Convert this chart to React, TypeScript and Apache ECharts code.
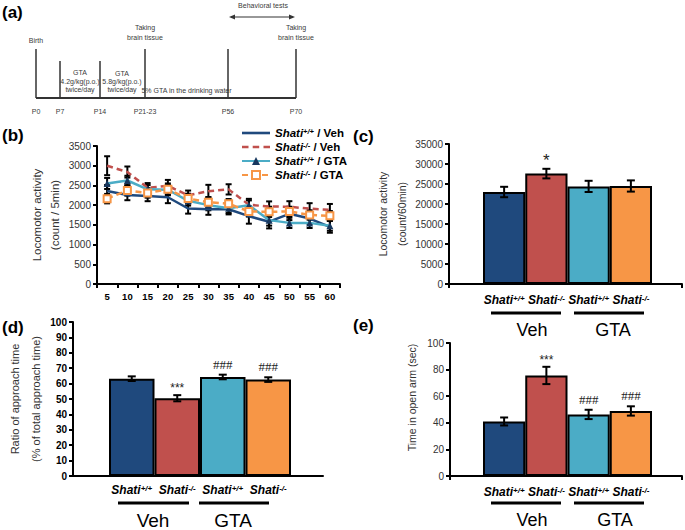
import React, { useEffect, useRef } from 'react';
import * as echarts from 'echarts';

// ---------------- data ----------------
const minutes = ['5', '10', '15', '20', '25', '30', '35', '40', '45', '50', '55', '60'];
const wtVeh = [2360, 2255, 2230, 2200, 1915, 1895, 1895, 1720, 1580, 1780, 1660, 1450];
const wtVehErr = [150, 130, 130, 150, 130, 140, 130, 190, 170, 160, 140, 150];
const koVeh = [3000, 2840, 2440, 2490, 2250, 2355, 2400, 2010, 1965, 1960, 1910, 1880];
const koVehErr = [240, 140, 120, 150, 120, 160, 130, 150, 130, 140, 140, 150];
const wtGta = [2550, 2625, 2400, 2390, 2110, 2000, 1920, 2000, 1620, 1550, 1550, 1480];
const wtGtaErr = [140, 120, 110, 120, 120, 130, 120, 120, 140, 130, 130, 130];
const koGta = [2165, 2370, 2310, 2400, 2170, 2075, 2035, 1840, 1830, 1840, 1750, 1730];
const koGtaErr = [120, 130, 120, 150, 120, 130, 120, 130, 130, 120, 120, 120];

const lineSeriesNames = ['Shati+/+ / Veh', 'Shati-/- / Veh', 'Shati+/+ / GTA', 'Shati-/- / GTA'];

const groups = ['Shati+/+ Veh', 'Shati-/- Veh', 'Shati+/+ GTA', 'Shati-/- GTA'];
const treatments = ['Veh', 'GTA'];

const locoTotal = [23000, 27600, 24400, 24500];
const locoTotalErr = [1300, 1200, 1400, 1400];
const locoTotalMarks = ['', '*', '', ''];

const approach = [63.2, 50.5, 64.3, 62.6];
const approachErr = [1.5, 2, 1.5, 1.5];
const approachMarks = ['', '***', '###', '###'];

const openArm = [41, 75.6, 46.3, 48.9];
const openArmErr = [3, 6.5, 3.5, 3.5];
const openArmMarks = ['', '***', '###', '###'];

const timelineLabels = ['P0', 'P7', 'P14', 'P21-23', 'P56', 'P70'];

// ---------------- styles ----------------
const FONT = "'Liberation Sans', Arial, sans-serif";
const BLUE = '#1f497d';
const RED = '#c0504d';
const CYAN = '#4bacc6';
const ORANGE = '#f79646';
const barColors = [BLUE, RED, CYAN, ORANGE];

const genoRich = (size: number, sup: number) => ({
  i: { fontStyle: 'italic', fontWeight: 'bold', fontSize: size, color: '#000', fontFamily: FONT },
  sup: { fontStyle: 'italic', fontWeight: 'bold', fontSize: sup, color: '#000', fontFamily: FONT, verticalAlign: 'top' },
  b: { fontWeight: 'bold', fontSize: size, color: '#000', fontFamily: FONT },
});

const genoLabel = (g: string) => {
  const geno = g.split(' ')[0];
  return '{i|Shati}{sup|' + geno.replace('Shati', '') + '}';
};

const legendLabel = (name: string) => {
  const [geno, trt] = name.split(' / ');
  return '{i|Shati}{sup|' + geno.replace('Shati', '') + '}{b| / ' + trt + '}';
};

const plainNum = (v: number) => String(v);

function txt(text: string, x: number, y: number, o: any = {}) {
  return {
    type: 'text',
    x,
    y,
    silent: true,
    style: {
      text,
      fill: o.fill || '#333',
      fontSize: o.fontSize || 8,
      fontFamily: FONT,
      fontWeight: o.fontWeight || 'normal',
      lineHeight: o.lineHeight,
      align: o.align || 'center',
      textAlign: o.align || 'center',
      verticalAlign: o.valign || 'middle',
      textVerticalAlign: o.valign || 'middle',
    },
  };
}
const tl = (text: string, x: number, y: number, o: any = {}) => txt(text, x, y, { fontSize: 7, fill: '#3a3a3a', ...o });
const ln = (x1: number, y1: number, x2: number, y2: number, w = 1.5, c = '#333') => ({
  type: 'line',
  silent: true,
  shape: { x1, y1, x2, y2 },
  style: { stroke: c, lineWidth: w },
});
const bar = (x1: number, x2: number, y: number) => ({
  type: 'rect',
  silent: true,
  shape: { x: x1, y: y - 1.5, width: x2 - x1, height: 3 },
  style: { fill: '#000' },
});

function errRender(capW: number, marks?: string[]) {
  return (params: any, api: any) => {
    const i = params.dataIndex;
    const x = api.value(0);
    const lo = api.coord([x, api.value(1)]);
    const hi = api.coord([x, api.value(2)]);
    const st = { stroke: '#000', lineWidth: 2 };
    const children: any[] = [
      { type: 'line', shape: { x1: lo[0], y1: lo[1], x2: hi[0], y2: hi[1] }, style: st },
      { type: 'line', shape: { x1: hi[0] - capW / 2, y1: hi[1], x2: hi[0] + capW / 2, y2: hi[1] }, style: st },
      { type: 'line', shape: { x1: lo[0] - capW / 2, y1: lo[1], x2: lo[0] + capW / 2, y2: lo[1] }, style: st },
    ];
    if (marks && marks[i]) {
      const m = marks[i];
      const isHash = m.indexOf('#') >= 0;
      const single = m === '*';
      children.push({
        type: 'text',
        x: hi[0],
        y: hi[1] - (isHash ? 4 : single ? 0 : 1),
        style: {
          text: m,
          fill: '#222',
          fontSize: isHash ? 13 : single ? 17 : 12,
          fontFamily: isHash ? "'Liberation Serif', serif" : FONT,
          align: 'center',
          textAlign: 'center',
          verticalAlign: 'bottom',
          textVerticalAlign: 'bottom',
        },
      });
    }
    return { type: 'group', children };
  };
}

const errData = (v: number[], e: number[]) => v.map((val, i) => [i, val - e[i], val + e[i]]);

export default function App() {
  const ref = useRef<HTMLDivElement>(null);
  useEffect(() => {
    if (!ref.current) return;
    const chart = echarts.init(ref.current, null, { renderer: 'svg' });

    const axisLine = { show: true, lineStyle: { color: '#000', width: 2 } };
    const axisTick = { show: true, inside: false, length: 4, lineStyle: { color: '#000', width: 2 } };
    const yLabelReg = { color: '#333', fontSize: 10, fontFamily: FONT, margin: 6, formatter: plainNum };

    // timeline (a)
    const tlX = [36, 60, 100, 145, 228, 296];
    const tlTop = [49, 61, 61, 49, 49, 49];
    const panelLbl = { fontSize: 17, fontWeight: 'bold', fill: '#000', align: 'left' };
    const graphic: any[] = [
      txt('(a)', 2, 12, panelLbl),
      txt('(b)', 2, 135, panelLbl),
      txt('(c)', 353, 136, panelLbl),
      txt('(d)', 2, 327, panelLbl),
      txt('(e)', 353, 325, panelLbl),
      ln(tlX[0], 98, tlX[5], 98, 2),
      tl('Birth', 36, 40),
      tl('Taking\nbrain tissue', 145, 32.5, { lineHeight: 9.5 }),
      tl('Taking\nbrain tissue', 296, 32.5, { lineHeight: 9.5 }),
      tl('GTA\n4.2g/kg(p.o.)\ntwice/day', 80, 81, { lineHeight: 8.3 }),
      tl('GTA\n5.8g/kg(p.o.)\ntwice/day', 122, 81.5, { lineHeight: 8.3 }),
      tl('5% GTA in the drinking water', 186.5, 90),
      tl('Behavioral tests', 263, 5),
      ln(231, 17, 293, 17, 1.2),
      { type: 'polygon', silent: true, shape: { points: [[229, 17], [235, 14.5], [235, 19.5]] }, style: { fill: '#333' } },
      { type: 'polygon', silent: true, shape: { points: [[295, 17], [289, 14.5], [289, 19.5]] }, style: { fill: '#333' } },
    ];
    timelineLabels.forEach((l, i) => {
      graphic.push(ln(tlX[i], tlTop[i], tlX[i], 98, 1.5));
      graphic.push(tl(l, tlX[i], 111));
    });
    // group underline + treatment labels for bar panels
    const groupDeco = (segs: number[][], lineY: number, centers: number[], textY: number, fs: number) => {
      segs.forEach((s) => graphic.push(bar(s[0], s[1], lineY)));
      treatments.forEach((t, i) =>
        graphic.push(txt(t, centers[i], textY, { fontSize: fs, fill: '#000' }))
      );
    };
    groupDeco([[491, 561], [574, 644]], 313, [532, 613], 330, 18);
    groupDeco([[491, 561], [574, 644]], 503, [532, 615], 520, 18);
    groupDeco([[118, 189], [199, 269]], 503, [153, 233], 520, 19);

    const frameX = (grid: number, ticks: boolean) => ({
      type: 'value',
      gridIndex: grid,
      min: 0,
      max: 1,
      interval: 1,
      axisLine,
      axisTick: { ...axisTick, show: ticks },
      axisLabel: { show: false },
      splitLine: { show: false },
    });
    const barX = (grid: number, margin: number) => ({
      type: 'category',
      gridIndex: grid,
      data: groups,
      axisLine: { show: false },
      axisTick: { show: false },
      axisLabel: { interval: 0, margin, formatter: genoLabel, rich: genoRich(12, 8) },
    });
    const hiddenY = (grid: number, max: number) => ({
      type: 'value',
      gridIndex: grid,
      min: 0,
      max,
      show: false,
      splitLine: { show: false },
    });
    const barSeries = (x: number, y: number, vals: number[]) => ({
      type: 'bar',
      xAxisIndex: x,
      yAxisIndex: y,
      barCategoryGap: '0%',
      silent: true,
      data: vals.map((v, i) => ({ value: v, itemStyle: { color: barColors[i] } })),
      itemStyle: { borderColor: '#000', borderWidth: 2 },
      z: 2,
    });
    const barErr = (x: number, y: number, vals: number[], errs: number[], marks: string[]) => ({
      type: 'custom',
      xAxisIndex: x,
      yAxisIndex: y,
      silent: true,
      renderItem: errRender(8, marks),
      encode: { x: 0, y: [1, 2] },
      data: errData(vals, errs),
      z: 5,
    });
    const lineErr = (vals: number[], errs: number[]) => ({
      type: 'custom',
      xAxisIndex: 0,
      yAxisIndex: 0,
      silent: true,
      renderItem: errRender(6),
      encode: { x: 0, y: [1, 2] },
      data: errData(vals, errs),
      z: 1,
    });

    const option: any = {
      animation: false,
      textStyle: { fontFamily: FONT },
      grid: [
        { left: 97, top: 146, width: 243, height: 138, outerBoundsMode: 'none' },
        { left: 449, top: 144, width: 233, height: 140, outerBoundsMode: 'none' },
        { left: 483, top: 144, width: 169, height: 140, outerBoundsMode: 'none' },
        { left: 73, top: 322, width: 250, height: 154, outerBoundsMode: 'none' },
        { left: 109, top: 322, width: 182, height: 154, outerBoundsMode: 'none' },
        { left: 450, top: 343, width: 232, height: 133, outerBoundsMode: 'none' },
        { left: 483, top: 343, width: 169, height: 133, outerBoundsMode: 'none' },
      ],
      legend: {
        data: [
          { name: lineSeriesNames[0], icon: 'path://M0,0h28v2.6h-28z' },
          { name: lineSeriesNames[1], icon: 'path://M0,0h6.5v2.6h-6.5z M10.7,0h6.5v2.6h-6.5z M21.5,0h6.5v2.6h-6.5z' },
          { name: lineSeriesNames[2] },
          { name: lineSeriesNames[3] },
        ],
        orient: 'vertical',
        left: 236,
        top: 122,
        itemWidth: 28,
        itemHeight: 10,
        itemGap: 2,
        selectedMode: false,
        formatter: legendLabel,
        textStyle: { rich: genoRich(11.5, 7.5) },
      },
      xAxis: [
        {
          type: 'category',
          gridIndex: 0,
          data: minutes,
          boundaryGap: true,
          axisLine,
          axisTick: { ...axisTick, alignWithLabel: false, interval: 0 },
          axisLabel: { interval: 0, fontWeight: 'bold', fontSize: 9.5, color: '#000', margin: 7 },
        },
        frameX(1, true),
        barX(2, 10),
        frameX(3, false),
        barX(4, 8),
        frameX(5, true),
        barX(6, 10),
      ],
      yAxis: [
        {
          type: 'value',
          gridIndex: 0,
          min: 0,
          max: 3500,
          interval: 500,
          axisLine,
          axisTick,
          splitLine: { show: false },
          axisLabel: yLabelReg,
          name: 'Locomotor activity\n(count / 5min)',
          nameLocation: 'middle',
          nameGap: 33,
          nameTextStyle: { fontSize: 11.5, lineHeight: 18, color: '#333', fontFamily: FONT },
        },
        {
          type: 'value',
          gridIndex: 1,
          min: 0,
          max: 35000,
          interval: 5000,
          axisLine,
          axisTick,
          splitLine: { show: false },
          axisLabel: yLabelReg,
          name: 'Locomotor activity\n(count/60min)',
          nameLocation: 'middle',
          nameGap: 31,
          nameTextStyle: { fontSize: 10.5, lineHeight: 19, color: '#333', fontFamily: FONT },
        },
        hiddenY(2, 35000),
        {
          type: 'value',
          gridIndex: 3,
          min: 0,
          max: 100,
          interval: 10,
          axisLine,
          axisTick,
          splitLine: { show: false },
          axisLabel: { color: '#000', fontSize: 10, fontWeight: 'bold', fontFamily: FONT, margin: 6, formatter: plainNum },
          name: 'Ratio of approach time\n(% of total approach time)',
          nameLocation: 'middle',
          nameGap: 24,
          nameTextStyle: { fontSize: 11, lineHeight: 21, color: '#333', fontFamily: FONT },
        },
        hiddenY(4, 100),
        {
          type: 'value',
          gridIndex: 5,
          min: 0,
          max: 100,
          interval: 20,
          axisLine,
          axisTick,
          splitLine: { show: false },
          axisLabel: yLabelReg,
          name: 'Time in open arm (sec)',
          nameLocation: 'middle',
          nameGap: 31,
          nameTextStyle: { fontSize: 10.5, lineHeight: 14, color: '#333', fontFamily: FONT, padding: [0, 0, 0, 24] },
        },
        hiddenY(6, 100),
      ],
      series: [
        lineErr(wtVeh, wtVehErr),
        lineErr(koVeh, koVehErr),
        lineErr(wtGta, wtGtaErr),
        lineErr(koGta, koGtaErr),
        {
          name: lineSeriesNames[0],
          type: 'line',
          xAxisIndex: 0,
          yAxisIndex: 0,
          data: wtVeh,
          symbol: 'none',
          lineStyle: { color: BLUE, width: 2.5 },
          itemStyle: { color: BLUE },
          z: 3,
        },
        {
          name: lineSeriesNames[1],
          type: 'line',
          xAxisIndex: 0,
          yAxisIndex: 0,
          data: koVeh,
          symbol: 'none',
          lineStyle: { color: RED, width: 2.5, type: [6, 4] },
          itemStyle: { color: RED },
          z: 3,
        },
        {
          name: lineSeriesNames[2],
          type: 'line',
          xAxisIndex: 0,
          yAxisIndex: 0,
          data: wtGta,
          symbol: 'triangle',
          symbolSize: 7,
          showAllSymbol: true,
          lineStyle: { color: CYAN, width: 2.5 },
          itemStyle: { color: '#17375e', borderWidth: 0 },
          z: 3,
        },
        {
          name: lineSeriesNames[3],
          type: 'line',
          xAxisIndex: 0,
          yAxisIndex: 0,
          data: koGta,
          symbol: 'rect',
          symbolSize: 7,
          showAllSymbol: true,
          lineStyle: { color: ORANGE, width: 2.5, type: [6, 4] },
          itemStyle: { color: '#fff', borderColor: ORANGE, borderWidth: 2 },
          z: 4,
        },
        barSeries(2, 2, locoTotal),
        barErr(2, 2, locoTotal, locoTotalErr, locoTotalMarks),
        barSeries(4, 4, approach),
        barErr(4, 4, approach, approachErr, approachMarks),
        barSeries(6, 6, openArm),
        barErr(6, 6, openArm, openArmErr, openArmMarks),
      ],
      graphic,
    };
    chart.setOption(option);
    return () => chart.dispose();
  }, []);
  return <div ref={ref} style={{ position: 'absolute', left: 0, top: 0, width: 685, height: 530, background: '#fff' }} />;
}
